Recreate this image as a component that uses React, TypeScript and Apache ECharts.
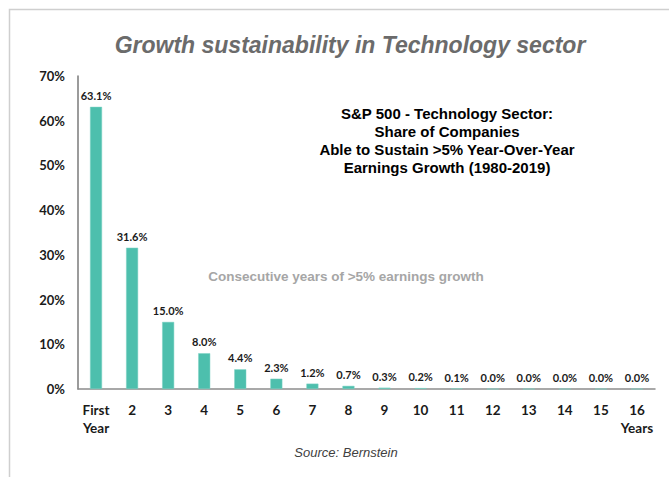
import React, { useEffect, useRef } from "react";
import * as echarts from "echarts";

const categories = ["First\nYear", "2", "3", "4", "5", "6", "7", "8", "9", "10", "11", "12", "13", "14", "15", "16\nYears"];
const shares = [63.1, 31.6, 15.0, 8.0, 4.4, 2.3, 1.2, 0.7, 0.3, 0.2, 0.1, 0.0, 0.0, 0.0, 0.0, 0.0];
const yTicks = { min: 0, max: 70, interval: 10 };
const chartTitle = "Growth sustainability in Technology sector";
const noteLines = [
  "S&P 500 - Technology Sector:",
  "Share of Companies",
  "Able to Sustain >5% Year-Over-Year",
  "Earnings Growth (1980-2019)",
];
const axisNote = "Consecutive years of >5% earnings growth";
const sourceText = "Source: Bernstein";

export default function App() {
  const ref = useRef<HTMLDivElement>(null);
  useEffect(() => {
    if (!ref.current) return;
    const chart = echarts.init(ref.current, null, { renderer: "svg" });
    chart.setOption({
      animation: false,
      backgroundColor: "#ffffff",
      title: {
        text: chartTitle,
        left: 345,
        textAlign: "center",
        top: 28,
        textStyle: {
          fontFamily: "Liberation Sans",
          fontStyle: "italic",
          fontWeight: "bold",
          fontSize: 23,
          color: "#6b6b6b",
        },
      },
      grid: { left: 78, right: 14, top: 76, bottom: 88, containLabel: false },
      xAxis: {
        type: "category",
        data: categories,
        axisLine: { lineStyle: { color: "#8c8c8c", width: 1.5 } },
        axisTick: { show: false },
        axisLabel: {
          interval: 0,
          margin: 12,
          fontFamily: "Lato",
          fontWeight: "bold",
          fontSize: 13.5,
          color: "#1a1a1a",
          lineHeight: 18,
          verticalAlign: "top",
        },
      },
      yAxis: {
        type: "value",
        min: yTicks.min,
        max: yTicks.max,
        interval: yTicks.interval,
        splitLine: { show: false },
        axisLine: { show: true, lineStyle: { color: "#7a7a7a", width: 1.5 } },
        axisTick: { show: false },
        axisLabel: {
          formatter: "{value}%",
          margin: 13,
          fontFamily: "Lato",
          fontWeight: "bold",
          fontSize: 13,
          color: "#1a1a1a",
        },
      },
      series: [
        {
          type: "bar",
          data: shares,
          barWidth: 12,
          itemStyle: { color: "#4dbfad", borderColor: "#7fd3c5", borderWidth: 0.5 },
          label: {
            show: true,
            position: "top",
            distance: 6,
            formatter: (p: any) => p.value.toFixed(1) + "%",
            fontFamily: "Lato",
            fontWeight: "bold",
            fontSize: 11,
            color: "#1a1a1a",
          },
        },
      ],
      graphic: [
        {
          type: "rect",
          shape: { x: 9.5, y: 9.5, width: 700, height: 500 },
          style: { fill: "none", stroke: "#cfcfcf", lineWidth: 1.5 },
          silent: true,
        },
        ...noteLines.map((t, i) => ({
          type: "text",
          x: 447,
          y: 113 + i * 18.3,
          style: {
            text: t,
            align: "center",
            verticalAlign: "middle",
            fontFamily: "Liberation Sans",
            fontWeight: "bold",
            fontSize: 15,
            fill: "#000000",
          },
        })),
        {
          type: "text",
          x: 346,
          y: 276,
          style: {
            text: axisNote,
            align: "center",
            verticalAlign: "middle",
            fontFamily: "Liberation Sans",
            fontWeight: "bold",
            fontSize: 13.5,
            fill: "#a6a6a6",
          },
        },
        {
          type: "text",
          x: 346,
          y: 452,
          style: {
            text: sourceText,
            align: "center",
            verticalAlign: "middle",
            fontFamily: "Liberation Sans",
            fontStyle: "italic",
            fontSize: 13,
            fill: "#404040",
          },
        },
      ],
    });
    return () => chart.dispose();
  }, []);
  return (
    <div
      ref={ref}
      style={{ position: "fixed", left: 0, top: 0, width: 669, height: 477 }}
    />
  );
}
